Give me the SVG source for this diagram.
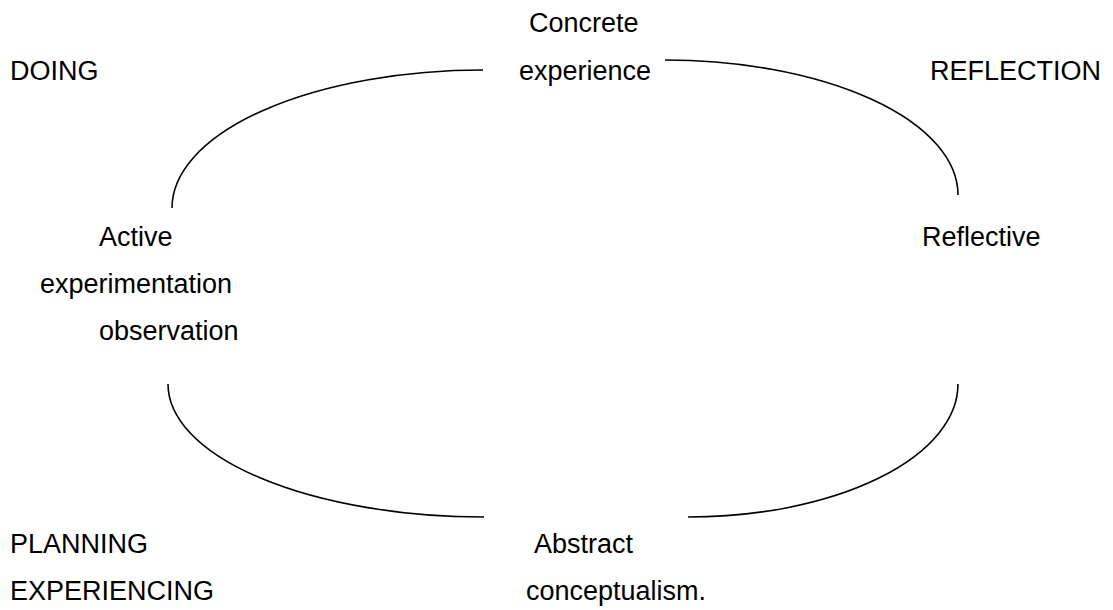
<svg xmlns="http://www.w3.org/2000/svg" width="1113" height="610" viewBox="0 0 1113 610">
<style>
text{font-family:"Liberation Sans",Arial,sans-serif;font-size:27px;fill:#000}
.arc{fill:none;stroke:#000;stroke-width:1.6}
</style>
<rect width="1113" height="610" fill="#fff"/>
<g id="connectors">
<path class="arc" d="M483,70 A311,138 0 0 0 172,208"/>
<path class="arc" d="M665,60 A293,135 0 0 1 958,195"/>
<path class="arc" d="M168,384 A316,133 0 0 0 484,517"/>
<path class="arc" d="M688,517 A270,133 0 0 0 958,384"/>
</g>
<g id="concrete"><text x="529" y="32">Concrete</text><text x="519" y="80">experience</text></g>
<g id="doing"><text x="10" y="80">DOING</text></g>
<g id="reflection"><text x="930" y="80">REFLECTION</text></g>
<g id="active"><text x="99" y="246">Active</text><text x="40" y="293">experimentation</text><text x="99" y="340">observation</text></g>
<g id="reflective"><text x="922" y="246">Reflective</text></g>
<g id="planning"><text x="10" y="553">PLANNING</text><text x="10" y="600">EXPERIENCING</text></g>
<g id="abstract"><text x="534" y="553">Abstract</text><text x="526" y="600">conceptualism.</text></g>
</svg>
